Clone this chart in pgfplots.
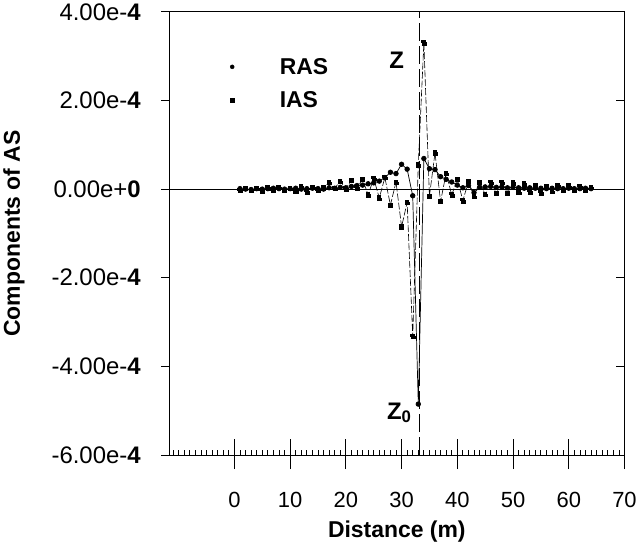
\documentclass[border=0pt]{standalone}
\usepackage{fontspec}
\setmainfont{Liberation Sans}
\usepackage{pgfplots}
\usepackage{pgfplotstable}
\pgfplotsset{compat=1.18}

\pgfplotstableread{
x ras ias
1 0.1e-5 -0.3e-5
2 0.0e-5 0.2e-5
3 -0.1e-5 -0.3e-5
4 0.1e-5 0.2e-5
5 0.0e-5 -0.4e-5
6 0.1e-5 0.3e-5
7 0.2e-5 -0.2e-5
8 0.1e-5 0.4e-5
9 0.0e-5 -0.3e-5
10 0.1e-5 0.2e-5
11 0.2e-5 -0.4e-5
12 0.0e-5 0.5e-5
13 0.1e-5 -0.6e-5
14 0.2e-5 0.4e-5
15 0.1e-5 -0.2e-5
16 0.0e-5 0.3e-5
17 0.3e-5 1.5e-5
18 0.2e-5 0.2e-5
19 0.4e-5 1.8e-5
20 0.3e-5 0.1e-5
21 0.6e-5 2.0e-5
22 0.8e-5 0.3e-5
23 0.9e-5 2.2e-5
24 1.2e-5 -1.3e-5
25 1.4e-5 2.4e-5
26 1.8e-5 -2.0e-5
27 2.6e-5 2.6e-5
28 3.8e-5 -3.6e-5
29 3.5e-5 1.6e-5
30 5.6e-5 -8.5e-5
31 4.5e-5 -3.0e-5
32 -1.5e-5 -33.2e-5
33 -48.5e-5 5.5e-5
34 6.9e-5 33.0e-5
35 4.6e-5 -1.6e-5
36 4.4e-5 8.2e-5
37 2.8e-5 -2.8e-5
38 2.2e-5 3.6e-5
39 1.6e-5 -1.3e-5
40 0.9e-5 2.2e-5
41 0.3e-5 -2.6e-5
42 0.8e-5 1.7e-5
43 -0.8e-5 -1.6e-5
44 0.4e-5 1.6e-5
45 0.5e-5 -1.2e-5
46 0.6e-5 1.6e-5
47 0.4e-5 -1.0e-5
48 0.5e-5 1.5e-5
49 0.3e-5 -0.9e-5
50 0.4e-5 1.4e-5
51 0.3e-5 -0.7e-5
52 0.2e-5 1.2e-5
53 0.3e-5 -0.6e-5
54 0.2e-5 0.8e-5
55 0.2e-5 -0.8e-5
56 0.1e-5 0.6e-5
57 0.2e-5 -0.5e-5
58 0.1e-5 0.8e-5
59 0.1e-5 -0.3e-5
60 0.2e-5 0.7e-5
61 0.1e-5 -0.2e-5
62 0.1e-5 0.6e-5
63 0.2e-5 -0.2e-5
64 0.1e-5 0.4e-5
}\datatable

\begin{document}
\begin{tikzpicture}
\pgfplotsset{
  common/.style={
    scale only axis, width=455bp, height=443bp,
    xmin=-11.7, xmax=70, ymin=-0.0006, ymax=0.0004,
    xtick={0,10,20,30,40,50,60,70},
    ytick={-0.0006,-0.0004,-0.0002,0,0.0002,0.0004},
    scaled y ticks=false, scaled x ticks=false,
    axis line style={line width=0.8bp},
    every tick/.style={black, line width=0.8bp},
  }
}
% overlay axis: inner ticks
\begin{axis}[common,
  tick align=inside,
  xtick pos=bottom, ytick pos=right,
  minor xtick={-11,-10,...,69},
  major tick length=16bp, minor tick length=5bp,
  xticklabels={}, yticklabels={},
  y tick style={/pgfplots/major tick length=8bp},
]
\end{axis}
% main axis
\begin{axis}[common,
  tick align=outside,
  xtick pos=bottom, ytick pos=left,
  major tick length=14bp,
  y tick style={/pgfplots/major tick length=8bp},
  xticklabels={0,10,20,30,40,50,60,70},
  yticklabels={-6.00e-\textbf{4},-4.00e-\textbf{4},-2.00e-\textbf{4},0.00e+\textbf{0},2.00e-\textbf{4},4.00e-\textbf{4}},
  x tick label style={font=\fontsize{22}{26}\selectfont, yshift=-20bp},
  y tick label style={font=\fontsize{24}{28}\selectfont, xshift=-11bp},
  xlabel={Distance (m)}, ylabel={Components of AS},
  label style={font=\bfseries\fontsize{23}{27}\selectfont},
  xlabel style={at={(ticklabel cs:0.5,6bp)}},
  ylabel style={at={(ticklabel cs:0.5,20bp)}},
  legend style={draw=none, fill=none, at={(rel axis cs:0.127,0.905)}, anchor=north west,
    font=\bfseries\fontsize{23}{27}\selectfont, row sep=12bp},
  legend cell align=left,
  legend image code/.code={\draw[#1] plot coordinates {(0cm,0cm)}; \path (0cm,0cm) (1.6cm,0cm);},
]
\addplot[black, line width=0.8bp, forget plot] coordinates {(-11.7,0) (70,0)};
\addplot[black, line width=0.9bp, dash pattern=on 18bp off 5bp, forget plot] coordinates {(33.2,-0.0006) (33.2,0.0004)};
\addplot[black, line width=0.6bp, dash pattern=on 7bp off 2bp, mark=square*, mark size=2.2bp, forget plot] table[x=x, y=ias] {\datatable};
\addplot[black, line width=0.7bp, mark=*, mark size=2.3bp, forget plot] table[x=x, y=ras] {\datatable};
\addlegendimage{only marks, mark=*, mark size=2bp, black}
\addlegendentry{RAS}
\addlegendimage{only marks, mark=square*, mark size=1.8bp, black}
\addlegendentry{IAS}
\node[font=\bfseries\fontsize{24}{28}\selectfont] at (axis cs:29.1,0.00029) {Z};
\node[font=\bfseries\fontsize{24}{28}\selectfont] at (axis cs:29.6,-0.000505) {Z\textsubscript{0}};
\end{axis}
\end{tikzpicture}
\end{document}
